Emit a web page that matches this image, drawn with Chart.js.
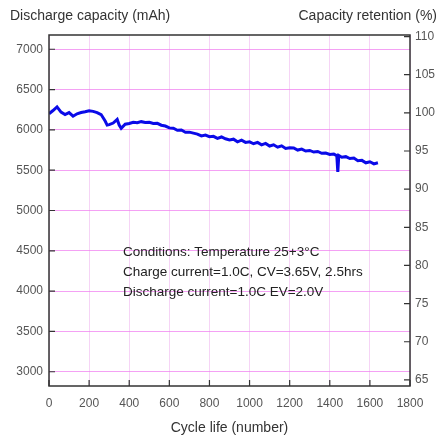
<!DOCTYPE html>
<html>
<head>
<meta charset="utf-8">
<script src="https://cdn.jsdelivr.net/npm/chart.js@4.4.1/dist/chart.umd.min.js"></script>
<style>
  html, body { margin: 0; padding: 0; background: #fff; }
  #wrap { width: 441px; height: 441px; }
</style>
</head>
<body>
<div id="wrap"><canvas id="chart"></canvas></div>
<script>
// Cycle life vs discharge capacity
const cycles = [0, 20, 40, 60, 80, 100, 120, 140, 160, 180, 200, 220, 240, 260, 280, 290, 300, 320, 340, 350,
  360, 380, 400, 420, 440, 460, 480, 500, 520, 540, 560, 580, 600, 620, 640, 660, 680, 700, 720, 740,
  760, 780, 800, 820, 840, 860, 880, 900, 920, 940, 960, 980, 1000, 1020, 1040, 1060, 1080, 1100, 1120, 1140,
  1160, 1180, 1200, 1220, 1240, 1260, 1280, 1300, 1320, 1340, 1360, 1380, 1400, 1420, 1435, 1440, 1445, 1460, 1480, 1500,
  1520, 1540, 1560, 1580, 1600, 1620, 1640];
const capacity = [6200, 6240, 6285, 6220, 6190, 6215, 6170, 6200, 6215, 6225, 6238, 6230, 6215, 6190, 6110, 6060, 6065, 6085, 6130, 6060,
  6020, 6070, 6080, 6095, 6088, 6102, 6092, 6095, 6080, 6082, 6058, 6048, 6025, 6020, 5995, 5998, 5970, 5972, 5960, 5948,
  5925, 5935, 5915, 5920, 5895, 5912, 5890, 5875, 5885, 5852, 5872, 5845, 5852, 5828, 5845, 5815, 5832, 5800, 5815, 5785,
  5802, 5770, 5778, 5775, 5750, 5762, 5738, 5745, 5725, 5732, 5710, 5712, 5695, 5700, 5680, 5480, 5682, 5660, 5668, 5645,
  5650, 5618, 5622, 5592, 5605, 5578, 5592];

const xTicks = [0, 200, 400, 600, 800, 1000, 1200, 1400, 1600, 1800];
const capTicks = [3000, 3500, 4000, 4500, 5000, 5500, 6000, 6500, 7000];
const retTicks = [65, 70, 75, 80, 85, 90, 95, 100, 105, 110];

const leftTitle = 'Discharge capacity (mAh)';
const rightTitle = 'Capacity retention (%)';
const notes = [
  'Conditions: Temperature 25+3\u00B0C',
  'Charge current=1.0C, CV=3.65V, 2.5hrs',
  'Discharge current=1.0C EV=2.0V'
];

const FONT = '"Liberation Sans", Arial, sans-serif';
const plain = v => String(v);

// frame, inward tick marks, top titles and the conditions note
const decorPlugin = {
  id: 'decor',
  afterDraw(chart) {
    const { ctx, chartArea: a, scales } = chart;
    ctx.save();
    ctx.strokeStyle = '#333';
    ctx.lineWidth = 1.5;
    ctx.strokeRect(a.left, a.top, a.right - a.left, a.bottom - a.top);

    ctx.lineWidth = 1.2;
    ctx.beginPath();
    capTicks.forEach(v => {
      const y = scales.y.getPixelForValue(v);
      ctx.moveTo(a.left, y); ctx.lineTo(a.left + 6, y);
    });
    retTicks.forEach(v => {
      const y = scales.y2.getPixelForValue(v);
      ctx.moveTo(a.right, y); ctx.lineTo(a.right - 6, y);
    });
    xTicks.forEach(v => {
      const x = scales.x.getPixelForValue(v);
      ctx.moveTo(x, a.bottom); ctx.lineTo(x, a.bottom - 6);
    });
    ctx.stroke();

    ctx.fillStyle = '#333';
    ctx.font = '14px ' + FONT;
    ctx.textBaseline = 'middle';
    ctx.textAlign = 'left';
    ctx.fillText(leftTitle, 10, 16);
    ctx.textAlign = 'right';
    ctx.fillText(rightTitle, 437, 16);

    ctx.textAlign = 'left';
    ctx.fillStyle = '#222';
    ctx.font = '13.5px ' + FONT;
    notes.forEach((t, i) => ctx.fillText(t, 123, 252 + i * 20));
    ctx.restore();
  }
};

new Chart(document.getElementById('chart'), {
  type: 'line',
  data: {
    datasets: [{
      data: cycles.map((c, i) => ({ x: c, y: capacity[i] })),
      borderColor: '#0a0ae8',
      borderWidth: 3,
      pointRadius: 0,
      tension: 0,
      fill: false,
      yAxisID: 'y'
    }]
  },
  options: {
    responsive: true,
    maintainAspectRatio: false,
    animation: false,
    layout: { padding: { top: 35, left: 0, right: 0, bottom: 0 } },
    plugins: { legend: { display: false }, tooltip: { enabled: false } },
    scales: {
      x: {
        type: 'linear',
        min: 0,
        max: 1800,
        afterBuildTicks: s => { s.ticks = xTicks.map(v => ({ value: v })); },
        afterFit: s => { s.height = 55; },
        border: { display: false },
        grid: { color: 'rgba(235,160,235,0.45)', drawTicks: false },
        ticks: { color: '#555', font: { family: FONT, size: 12 }, padding: 10, maxRotation: 0, callback: plain },
        title: { display: true, text: 'Cycle life (number)', color: '#333', font: { family: FONT, size: 14 }, padding: { top: 7 } }
      },
      y: {
        position: 'left',
        min: 2823,
        max: 7177,
        afterBuildTicks: s => { s.ticks = capTicks.map(v => ({ value: v })); },
        afterFit: s => { s.width = 49; },
        border: { display: false },
        grid: { color: 'rgba(240,130,240,0.75)', drawTicks: false },
        ticks: { color: '#555', font: { family: FONT, size: 12 }, padding: 6, callback: plain }
      },
      y2: {
        position: 'right',
        min: 64.2,
        max: 110.2,
        afterBuildTicks: s => { s.ticks = retTicks.map(v => ({ value: v })); },
        afterFit: s => { s.width = 31; },
        border: { display: false },
        grid: { display: false, drawTicks: false },
        ticks: { color: '#555', font: { family: FONT, size: 12 }, padding: 5, callback: plain }
      }
    }
  },
  plugins: [decorPlugin]
});
</script>
</body>
</html>
